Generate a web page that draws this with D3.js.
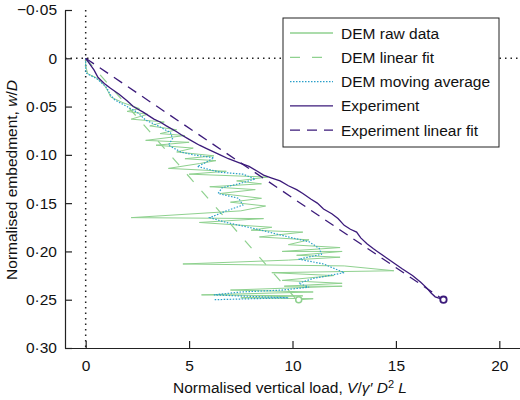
<!DOCTYPE html>
<html><head><meta charset="utf-8">
<script src="https://cdn.jsdelivr.net/npm/d3@7"></script>
<style>body{margin:0;background:#fff}svg{font-family:"Liberation Sans",Arial,sans-serif}</style>
</head><body><div id="graf"></div>
<script>
// [load, embedment]
const experiment = [[0,0],[0.2,0.006],[0.4,0.012],[0.6,0.02],[0.9,0.026],[1.2,0.031],[1.6,0.037],[2.0,0.044],[2.3,0.05],[2.8,0.056],[3.3,0.063],[3.6,0.066],[3.9,0.07],[4.4,0.076],[4.6,0.079],[5.0,0.084],[5.5,0.09],[5.9,0.094],[6.5,0.1],[6.9,0.104],[7.4,0.108],[7.9,0.112],[8.3,0.117],[8.6,0.121],[9.0,0.124],[9.4,0.127],[9.8,0.132],[10.2,0.136],[10.5,0.14],[10.9,0.146],[11.2,0.15],[11.5,0.156],[11.9,0.161],[12.2,0.166],[12.5,0.173],[12.8,0.177],[13.1,0.18],[13.3,0.186],[13.6,0.192],[13.9,0.197],[14.1,0.2],[14.5,0.206],[14.9,0.212],[15.3,0.218],[15.8,0.225],[16.2,0.232],[16.5,0.238],[16.7,0.243],[16.9,0.247],[17.3,0.25]];
const expFit = [[0,0],[17.3,0.25]];
const demFit = [[0,0],[10.2,0.25]];
const demAvg = [[0,0],[0,0.015],[0.6,0.022],[1.0,0.03],[1.2,0.038],[1.4,0.043],[2.0,0.05],[2.5,0.056],[2.9,0.064],[3.5,0.07],[4.1,0.077],[4.2,0.083],[4.0,0.09],[4.6,0.097],[5.2,0.1],[6.2,0.103],[5.8,0.108],[5.4,0.112],[6.5,0.118],[7.6,0.12],[8.2,0.125],[7.4,0.13],[6.6,0.134],[6.4,0.14],[7.4,0.145],[7.6,0.152],[6.8,0.158],[6.0,0.165],[6.8,0.17],[8.3,0.177],[9.8,0.185],[10.8,0.19],[11.3,0.197],[11.4,0.203],[10.3,0.208],[11.5,0.213],[12.5,0.222],[11.0,0.228],[10.3,0.233],[10.8,0.237],[9.5,0.24],[7.5,0.242],[6.2,0.245],[8.5,0.247],[9.8,0.248],[6.2,0.25]];
const demRaw = [[0,0],[0,0.008],[0.1,0.016],[0.5,0.02],[0.9,0.028],[1.1,0.035],[1.2,0.04],[1.8,0.046],[2.6,0.052],[2.0,0.055],[3.0,0.058],[2.2,0.063],[3.8,0.066],[3.1,0.07],[4.4,0.074],[3.6,0.078],[4.8,0.08],[2.9,0.085],[5.0,0.087],[3.4,0.09],[5.2,0.093],[4.4,0.097],[6.2,0.101],[4.8,0.104],[6.3,0.106],[5.5,0.109],[4.0,0.114],[6.8,0.117],[5.0,0.12],[8.8,0.123],[7.3,0.127],[8.5,0.13],[6.0,0.133],[8.2,0.136],[6.5,0.14],[8.5,0.145],[7.0,0.149],[8.7,0.153],[7.5,0.158],[2.2,0.165],[8.6,0.166],[5.5,0.17],[9.0,0.175],[8.0,0.178],[10.5,0.18],[8.4,0.185],[10.8,0.188],[9.8,0.193],[12.3,0.196],[9.5,0.2],[12.4,0.2],[10.2,0.204],[12.3,0.206],[9.8,0.209],[4.7,0.213],[12.5,0.215],[14.9,0.22],[9.0,0.222],[12.0,0.225],[9.5,0.23],[12.4,0.233],[9.6,0.236],[12.4,0.236],[7.0,0.24],[11.0,0.242],[5.6,0.245],[10.5,0.246],[7.5,0.248],[11.0,0.249],[10.3,0.25]];
const xTicks = [0,5,10,15,20];
const yTicks = [-0.05,0,0.05,0.10,0.15,0.20,0.25,0.30];

const W = 520, H = 400;
const svg = d3.select("#graf").append("svg").attr("width", W).attr("height", H);
const x = d3.scaleLinear().domain([-1, 21]).range([65, 520]);
const y = d3.scaleLinear().domain([-0.05, 0.30]).range([10, 348]);
const fmt = d => d === 0 ? "0" : (d < 0 ? "\u2212" : "") + Math.abs(d).toFixed(2).replace(".", "\u00b7");

svg.append("g").attr("transform", "translate(0,348)")
  .call(d3.axisBottom(x).tickValues(xTicks).tickSizeInner(-7).tickSizeOuter(0).tickPadding(12))
  .call(g => g.selectAll("text").attr("font-size", 15.5).attr("fill", "#111"));
svg.append("g").attr("transform", "translate(65,0)")
  .call(d3.axisLeft(y).tickValues(yTicks).tickFormat(fmt).tickSizeInner(-7).tickSizeOuter(0).tickPadding(8))
  .call(g => g.selectAll("text").attr("font-size", 15.5).attr("fill", "#111"));
svg.selectAll(".domain, .tick line").attr("stroke", "#222").attr("stroke-width", 1.2);

// zero reference lines
svg.append("line").attr("x1", x(0)).attr("x2", x(0)).attr("y1", 10).attr("y2", 348)
  .attr("stroke", "#222").attr("stroke-width", 1.5).attr("stroke-dasharray", "1.5,4");
svg.append("line").attr("x1", 65).attr("x2", 520).attr("y1", y(0)).attr("y2", y(0))
  .attr("stroke", "#222").attr("stroke-width", 1.5).attr("stroke-dasharray", "1.5,4");

const line = d3.line().x(d => x(d[0])).y(d => y(d[1]));
const green = "#8fd18f", blue = "#2a9fc9", purple = "#3b1a7a";
svg.append("path").datum(demRaw).attr("d", line).attr("fill", "none").attr("stroke", green).attr("stroke-width", 1);
svg.append("path").datum(demFit).attr("d", line).attr("fill", "none").attr("stroke", green).attr("stroke-width", 1.2).attr("stroke-dasharray", "10,12");
svg.append("path").datum(demAvg).attr("d", line).attr("fill", "none").attr("stroke", blue).attr("stroke-width", 1.2).attr("stroke-dasharray", "1.5,1.5");
svg.append("path").datum(experiment).attr("d", line).attr("fill", "none").attr("stroke", purple).attr("stroke-width", 1.3);
svg.append("path").datum(expFit).attr("d", line).attr("fill", "none").attr("stroke", purple).attr("stroke-width", 1.3).attr("stroke-dasharray", "10,7");
svg.append("circle").attr("cx", x(10.3)).attr("cy", y(0.25)).attr("r", 3).attr("fill", "#fff").attr("stroke", green).attr("stroke-width", 1.5);
svg.append("circle").attr("cx", x(17.3)).attr("cy", y(0.25)).attr("r", 3.2).attr("fill", "#fff").attr("stroke", purple).attr("stroke-width", 1.8);

// legend
const legend = [
  {label: "DEM raw data", color: green, dash: null},
  {label: "DEM linear fit", color: green, dash: "10,12"},
  {label: "DEM moving average", color: blue, dash: "1.5,1.5"},
  {label: "Experiment", color: purple, dash: null},
  {label: "Experiment linear fit", color: purple, dash: "10,7"}
];
const lg = svg.append("g").attr("transform", "translate(283,18)");
lg.append("rect").attr("width", 216).attr("height", 129).attr("fill", "#fff").attr("stroke", "#222").attr("stroke-width", 1);
legend.forEach((d, i) => {
  const yy = 15 + i * 24.3;
  lg.append("line").attr("x1", 7).attr("x2", 50).attr("y1", yy).attr("y2", yy)
    .attr("stroke", d.color).attr("stroke-width", 1.3).attr("stroke-dasharray", d.dash);
  lg.append("text").attr("x", 58).attr("y", yy + 5.5).attr("font-size", 15.5).attr("fill", "#111").text(d.label);
});

svg.append("text").attr("x", 290).attr("y", 393).attr("text-anchor", "middle").attr("font-size", 15.5).attr("fill", "#111")
  .html('Normalised vertical load, <tspan font-style="italic">V</tspan>/<tspan font-style="italic">γ′ D</tspan><tspan dy="-5" font-size="11">2</tspan><tspan dy="5" font-style="italic"> L</tspan>');
svg.append("text").attr("transform", "translate(17,180) rotate(-90)").attr("text-anchor", "middle").attr("font-size", 15.5).attr("fill", "#111")
  .html('Normalised embedment, <tspan font-style="italic">w</tspan>/<tspan font-style="italic">D</tspan>');
</script></body></html>
